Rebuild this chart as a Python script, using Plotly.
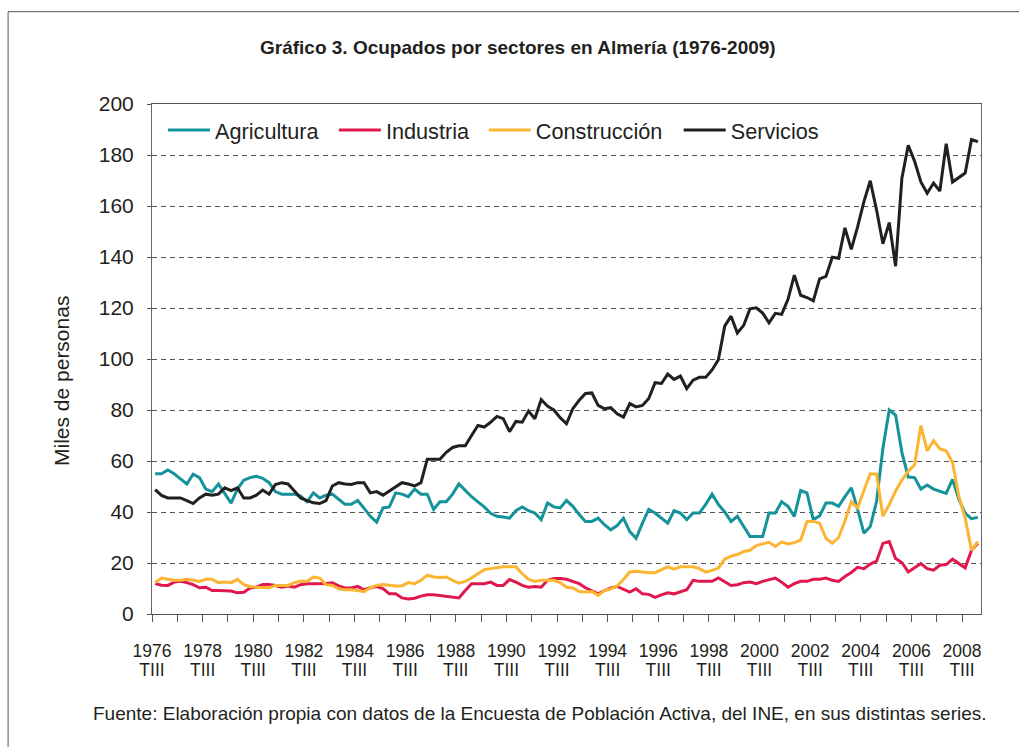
import plotly.graph_objects as go

# Quarterly series, 1976 TIII .. 2009 TI (thousands of persons)
start_year = 1976
n_quarters = 131
quarters = [f"{start_year + (2 + k) // 4} T{['I','II','III','IV'][(2 + k) % 4]}" for k in range(n_quarters)]

agricultura = [55, 55, 56.5, 55, 53, 51, 54.8, 53.5, 49, 48, 51, 47, 43.5, 49, 52.5, 53.5,
               54, 53.2, 51.5, 48, 47, 47, 47, 46.2, 44, 47.5, 45.5, 46.6, 47, 45, 43, 43,
               44.5, 41.5, 38.3, 36, 41.6, 42, 47.5, 47, 46, 49, 47, 47, 41, 44, 44, 47,
               51, 48.5, 46, 44, 42, 39.5, 38.3, 38, 37.6, 40.5, 42, 40.5, 39.6, 37, 43.5, 42,
               41.6, 44.5, 42.2, 39, 36.3, 36.3, 37.6, 35, 33, 34.7, 37.6, 32.3, 29.7, 35.6, 41, 39.6,
               37.6, 35.6, 40.5, 39.6, 37, 39.6, 39.6, 43, 47, 43, 40, 36.3, 38.3, 34.5, 30.4, 30.4,
               30.4, 39.6, 39.6, 44, 42.2, 38.3, 48.4, 47.5, 37, 38.5, 43.5, 43.5, 42.2, 46, 49.5, 41,
               31.7, 34.3, 44.2, 65, 80, 78, 63.4, 53.7, 53.5, 49, 50.6, 49, 48, 47.3, 52.8, 45,
               39.5, 37.4, 37.9]

industria = [11.9, 11.3, 11.2, 12.5, 12.8, 12.3, 11.5, 10.3, 10.5, 9.2, 9.2, 9.2, 9, 8.3, 8.5, 10.2,
             10.5, 11.6, 11.6, 11.2, 10.5, 11, 10.5, 11.5, 11.9, 11.9, 11.9, 12, 12.2, 11, 10.2, 10.2,
             10.8, 9.5, 10.3, 10.8, 10, 7.9, 7.9, 6.3, 5.9, 6.2, 7, 7.5, 7.5, 7.2, 7, 6.8,
             6.3, 9.2, 11.9, 11.9, 11.9, 12.5, 11.2, 11.2, 13.5, 12.5, 11.2, 10.5, 10.8, 10.5, 13.2, 13.9,
             13.9, 13.6, 12.8, 11.9, 10.3, 9.2, 7.9, 9.2, 10.2, 10.8, 9.6, 8.6, 9.9, 7.9, 7.7, 6.5,
             7.5, 8.3, 7.9, 8.6, 9.5, 13.2, 12.8, 12.8, 12.8, 14.1, 12.5, 11.2, 11.5, 12.3, 12.5, 11.9,
             12.8, 13.6, 14.1, 12.5, 10.5, 11.9, 12.8, 12.8, 13.6, 13.6, 14.1, 13.2, 12.8, 14.7, 16.3, 18.3,
             17.8, 19.6, 20.7, 27.7, 28.4, 21.8, 20.2, 16.5, 18, 19.8, 17.8, 17.2, 19.1, 19.4, 21.5, 19.8,
             18.1, 25, 27.7]

construccion = [12.3, 14.1, 13.6, 13.2, 13.2, 13.6, 13.2, 12.8, 13.6, 13.6, 12.3, 12.5, 12.3, 13.6, 11.5, 10.8,
                10.5, 10.3, 10.3, 11.2, 11.2, 11.2, 12.3, 12.8, 12.8, 14.5, 14.1, 11.5, 11.2, 9.9, 9.5, 9.5,
                9.2, 8.8, 10.3, 11.2, 11.6, 11.2, 11, 11, 12.3, 11.9, 13.2, 15.2, 14.5, 14.3, 14.5, 13.2,
                12.1, 12.8, 14.1, 15.8, 17.4, 17.8, 18.1, 18.5, 18.5, 18.5, 15.8, 13.6, 12.8, 13.2, 13.2, 13.2,
                12.3, 10.5, 10.2, 8.8, 8.6, 8.8, 7.3, 9.2, 9.9, 11, 13.5, 16.5, 16.8, 16.4, 16.2, 16.2,
                17.4, 18.5, 17.6, 18.5, 18.5, 18.5, 17.8, 16.4, 17.1, 18, 21.5, 22.7, 23.3, 24.5, 25, 26.8,
                27.5, 28.1, 26.5, 28.3, 27.5, 28, 29, 36.3, 36.3, 35.6, 29.7, 27.7, 30, 36.5, 44, 41.6,
                48.5, 55, 54.8, 38.3, 42.9, 48.2, 52.5, 56, 58.5, 73.9, 64, 68, 64.7, 64, 59.4, 46.2,
                37.6, 25, 28.4]

servicios = [48.8, 46.5, 45.5, 45.5, 45.5, 44.5, 43.3, 45.5, 47, 46.6, 47, 49.5, 48.4, 49.5, 45.5, 45.5,
             46.6, 48.6, 47, 50.8, 51.5, 51, 48.2, 45.5, 44.5, 43.6, 43.3, 44.5, 50.2, 51.5, 51, 50.8,
             51.5, 51.5, 47.5, 48, 46.6, 48.2, 49.8, 51.5, 51, 50.2, 51.5, 60.7, 60.7, 60.7, 63.4, 65.3,
             66, 66, 70, 73.9, 73.3, 75.2, 77.5, 76.6, 71.5, 75.5, 75.2, 79.6, 76.6, 84.1, 81.5, 80,
             77, 74.6, 80.5, 83.8, 86.5, 86.7, 81.8, 80.5, 80.9, 78.5, 77.2, 82.5, 81.2, 81.8, 84.5, 90.7,
             90.4, 94.1, 92, 93.3, 88.4, 91.7, 92.8, 92.8, 95.7, 99.7, 112.9, 116.8, 110.2, 113.2, 119.7, 120.1,
             118, 114.2, 117.9, 117.5, 123.4, 132.9, 125, 124.1, 122.8, 131.4, 132.4, 139.9, 139.5, 151.4, 143, 151.8,
             161.7, 169.9, 158.4, 145.2, 153.5, 136.4, 170.9, 183.8, 177.6, 169.4, 165, 169, 165.9, 184.4, 169.4, 171.2,
             172.9, 186.1, 185.2]

series_names = ["Agricultura", "Industria", "Construcción", "Servicios"]
series_values = [agricultura, industria, construccion, servicios]
series_colors = ["#14939a", "#e1184e", "#fcb532", "#231f20"]
legend_ids = ["legend", "legend2", "legend3", "legend4"]

tick_years = list(range(1976, 2009, 2))
y_ticks = list(range(0, 201, 20))

# category positions: points centred between yearly tick marks (Excel style)
xpos = [k + 0.5 for k in range(n_quarters)]

W, H = 1019, 747
ml, mr, mt, mb = 152, 37.5, 103.5, 132.5
pw, ph = W - ml - mr, H - mt - mb

def px(x):
    return (x - ml) / pw

def py(y):
    return 1 - (y - mt) / ph

font_main = "Liberation Sans, Arial, sans-serif"
txt_col = "#231f20"

fig = go.Figure()
for name, vals, col, lg in zip(series_names, series_values, series_colors, legend_ids):
    fig.add_trace(go.Scatter(x=xpos, y=vals, mode="lines", name=name, legend=lg,
                             text=quarters, hovertemplate="%{text}: %{y}<extra>" + name + "</extra>",
                             line=dict(color=col, width=3)))

# invisible carrier trace for the secondary (quarter-label) x axis
fig.add_trace(go.Scatter(x=xpos, y=servicios, xaxis="x2", mode="lines", opacity=0,
                         showlegend=False, hoverinfo="skip", line=dict(width=0)))

tickvals = list(range(0, 129, 4))
year_text, q_text = [], []
for v in tickvals:
    yr = start_year + v // 4
    year_text.append(str(yr) if yr in tick_years else "")
    q_text.append("TIII" if yr in tick_years else "")

legend_left = [163, 334, 484, 679]
legends = {}
for lg, xl in zip(legend_ids, legend_left):
    legends[lg] = dict(orientation="h", x=px(xl), y=py(130), xanchor="left", yanchor="middle",
                       font=dict(size=21.7, family=font_main, color=txt_col),
                       bgcolor="rgba(0,0,0,0)", borderwidth=0, itemwidth=42)

fig.update_layout(
    width=W, height=H,
    margin=dict(l=ml, r=mr, t=mt, b=mb),
    paper_bgcolor="white", plot_bgcolor="white",
    font=dict(family=font_main, color=txt_col),
    showlegend=True,
    xaxis=dict(range=[0, n_quarters], tickmode="array", tickvals=tickvals, ticktext=year_text,
               ticks="outside", ticklen=7, tickcolor="#555", tickwidth=1,
               showline=True, linecolor="#555", linewidth=1, mirror=True,
               showgrid=False, zeroline=False, fixedrange=True,
               tickfont=dict(size=17.5, family=font_main, color=txt_col), ticklabelstandoff=14),
    xaxis2=dict(range=[0, n_quarters], overlaying="x", anchor="y", side="bottom",
                tickmode="array", tickvals=tickvals, ticktext=q_text,
                ticks="outside", ticklen=7, tickcolor="rgba(0,0,0,0)",
                showline=False, showgrid=False, zeroline=False, fixedrange=True,
                tickfont=dict(size=17.5, family=font_main, color=txt_col), ticklabelstandoff=33),
    yaxis=dict(range=[0, 200], tickmode="array", tickvals=y_ticks,
               ticks="outside", ticklen=4, tickcolor="#555", tickwidth=1,
               showline=True, linecolor="#666", linewidth=1, mirror=True,
               showgrid=True, gridcolor="#555", gridwidth=1, griddash="5px,4px",
               zeroline=False, fixedrange=True,
               tickfont=dict(size=21, family=font_main, color=txt_col), ticklabelstandoff=9),
    **legends,
)

fig.add_annotation(text="<b>Gráfico 3. Ocupados por sectores en Almería (1976-2009)</b>",
                   xref="paper", yref="paper", x=px(518), y=py(47), xanchor="center", yanchor="middle",
                   showarrow=False,
                   font=dict(size=19, family="Liberation Sans Narrow, Arial Narrow, Liberation Sans, Arial, sans-serif",
                             color=txt_col))
fig.add_annotation(text="Miles de personas", xref="paper", yref="paper", x=px(62), y=py(381),
                   xanchor="center", yanchor="middle", textangle=-90, showarrow=False,
                   font=dict(size=21, family=font_main, color=txt_col))
fig.add_annotation(text="Fuente: Elaboración propia con datos de la Encuesta de Población Activa, del INE, en sus distintas series.",
                   xref="paper", yref="paper", x=px(540), y=py(714), xanchor="center", yanchor="middle",
                   showarrow=False, font=dict(size=19, family=font_main, color=txt_col))

# outer frame of the figure (only top & left edges fall inside the picture)
fig.add_shape(type="rect", xref="paper", yref="paper", x0=px(8), y0=py(11), x1=px(1040), y1=py(770),
              line=dict(color="#555", width=1), fillcolor="rgba(0,0,0,0)", layer="below")

fig.write_html("out.html", config={"displayModeBar": False},
               post_script="document.body.style.margin='0px';")
